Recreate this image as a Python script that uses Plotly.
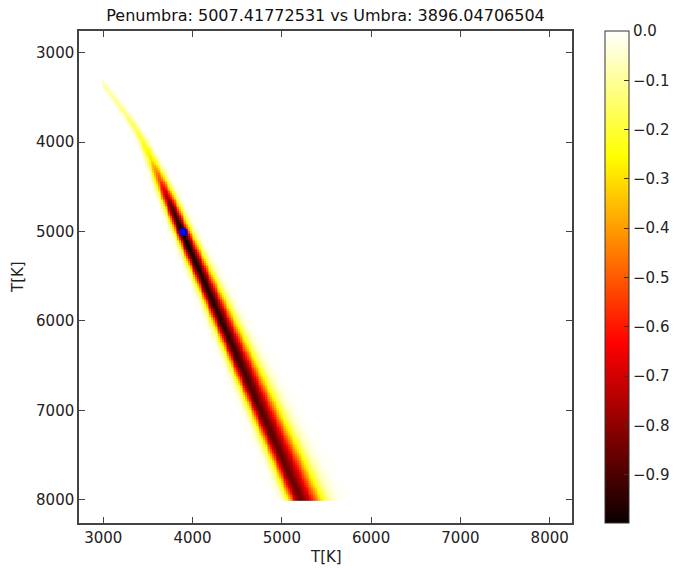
import numpy as np
import plotly.graph_objects as go

# --- values ---
# ridge of the likelihood map: penumbra temperature (y) -> umbra temperature of the valley centre (x)
pen_levels   = [3100, 3350, 3550, 3750, 3950, 4200, 4400, 4600, 4800, 5000, 5500, 6000, 6500, 7000, 7500, 8000]
umb_center   = [2810, 2995, 3150, 3295, 3420, 3540, 3625, 3710, 3795, 3880, 4100, 4320, 4540, 4760, 4985, 5205]
depth        = [0.06, 0.08, 0.11, 0.15, 0.20, 0.30, 0.50, 0.75, 0.92, 0.998, 0.96, 0.94, 0.91, 0.88, 0.86, 0.84]
width_left   = [22, 24, 26, 28, 31, 38, 44, 48, 50, 52, 58, 64, 70, 76, 82, 88]
width_right  = [24, 26, 29, 32, 36, 45, 52, 58, 62, 66, 84, 102, 120, 136, 150, 162]

best_penumbra = 5007.41772531
best_umbra = 3896.04706504

cbar_tickvals = [0.0, -0.1, -0.2, -0.3, -0.4, -0.5, -0.6, -0.7, -0.8, -0.9]
cbar_ticktext = ["0.0", "\u22120.1", "\u22120.2", "\u22120.3", "\u22120.4", "\u22120.5",
                 "\u22120.6", "\u22120.7", "\u22120.8", "\u22120.9"]
axis_ticks = [3000, 4000, 5000, 6000, 7000, 8000]

# --- grid ---
T_umb = np.arange(3000, 8001, 20)
T_pen = np.arange(3000, 8001, 20)
UU, PP = np.meshgrid(T_umb, T_pen)
c = np.interp(PP, pen_levels, umb_center)
d = np.interp(PP, pen_levels, depth)
wl = np.interp(PP, pen_levels, width_left)
wr = np.interp(PP, pen_levels, width_right)
dx = UU - c
w = np.where(dx < 0, wl, wr)
Z = -d * np.exp(-0.5 * (dx / w) ** 2)
Z[PP < pen_levels[0]] = 0.0

hot = [[0.0, "rgb(11,0,0)"], [0.365, "rgb(255,0,0)"], [0.746, "rgb(255,255,0)"], [1.0, "rgb(255,255,255)"]]

L, R, T, B = 79, 104, 31, 45
W, H = 676, 568
pw = W - L - R
ph = H - T - B
font_ax = dict(family="DejaVu Sans", size=15, color="#222")

fig = go.Figure()
fig.add_trace(go.Heatmap(
    x=T_umb, y=T_pen, z=Z, colorscale=hot, zmin=-0.998, zmax=0.0,
    colorbar=dict(
        x=(605 - L) / pw, xanchor="left", xpad=0, ypad=0, y=0.5, yanchor="middle", len=1.0,
        thickness=24, outlinewidth=1, outlinecolor="#333",
        tickvals=cbar_tickvals, ticktext=cbar_ticktext, ticks="inside", ticklen=5,
        tickcolor="#333", tickfont=font_ax,
    ),
    hoverinfo="skip",
))
fig.add_trace(go.Scatter(
    x=[best_umbra], y=[best_penumbra], mode="markers",
    marker=dict(color="blue", size=8, line=dict(color="#000033", width=0.6)),
    showlegend=False, hoverinfo="skip",
))

axis_common = dict(
    showgrid=False, zeroline=False, showline=True, linecolor="#444", linewidth=1.5,
    mirror="ticks", ticks="inside", ticklen=6, tickcolor="#444", automargin=False,
    tickvals=axis_ticks, tickfont=font_ax,
)
fig.update_layout(
    width=W, height=H,
    margin=dict(l=L, r=R, t=T, b=B, autoexpand=False),
    paper_bgcolor="white", plot_bgcolor="white",
    title=dict(text="Penumbra: 5007.41772531 vs Umbra: 3896.04706504",
               x=325.5 / W, xanchor="center", y=1 - 15 / H, yanchor="middle",
               font=dict(family="DejaVu Sans", size=16, color="#111")),
    xaxis=dict(range=[2728, 8250], **axis_common),
    yaxis=dict(range=[8261, 2757], **axis_common),
    annotations=[
        dict(text="T[K]", xref="paper", yref="paper", x=0.5, y=-(557 - (T + ph)) / ph,
             xanchor="center", yanchor="middle", showarrow=False, font=font_ax),
        dict(text="T[K]", xref="paper", yref="paper", x=-(L - 18) / pw, y=0.5,
             xanchor="center", yanchor="middle", showarrow=False, textangle=-90, font=font_ax),
    ],
)

fig.write_html("out.html", config={"displayModeBar": False},
               post_script="document.body.style.margin='0';document.body.style.overflow='hidden';")
